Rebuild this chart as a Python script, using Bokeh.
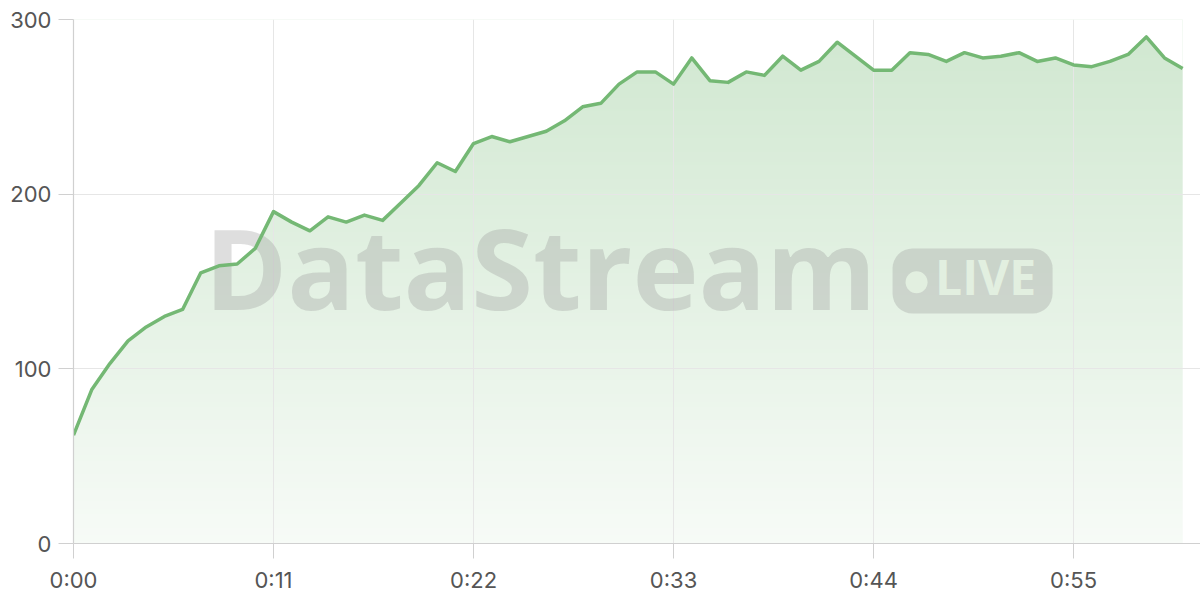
import numpy as np
from bokeh.plotting import figure
from bokeh.models import Range1d, FixedTicker, Label, BoxAnnotation
from bokeh.embed import file_html
from bokeh.resources import INLINE

# ---- data ----
seconds = list(range(62))
values = [62, 88, 103, 116, 124, 130, 134, 155, 159, 160,
          169, 190, 184, 179, 187, 184, 188, 185, 195, 205,
          218, 213, 229, 233, 230, 233, 236, 242, 250, 252,
          263, 270, 270, 263, 278, 265, 264, 270, 268, 279,
          271, 276, 287, 279, 271, 271, 281, 280, 276, 281,
          278, 279, 281, 276, 278, 274, 273, 276, 280, 290,
          278, 272]
x_ticks = [0, 11, 22, 33, 44, 55]
x_tick_labels = ["0:00", "0:11", "0:22", "0:33", "0:44", "0:55"]
y_ticks = [0, 100, 200, 300]

Y_MAX = 300
X_MAX = 61.98

LINE_COLOR = "#74b874"
GRID_COLOR = "#e6e6e6"
AXIS_COLOR = "#d0d0d0"
LABEL_COLOR = "#555555"
WM_COLOR = "#9a9a9a"
KNOCK = "#e2efe0"

p = figure(width=1200, height=600, output_backend="svg", toolbar_location=None,
           x_range=Range1d(0, X_MAX), y_range=Range1d(0, Y_MAX),
           min_border_left=73, min_border_right=0, min_border_top=19,
           min_border_bottom=57)
p.outline_line_color = None
p.background_fill_color = "white"
p.border_fill_color = "white"

# ---- vertical gradient fill (image) masked above the line ----
n = 524
img = np.empty((n, 4), dtype=np.uint32)
view = img.view(dtype=np.uint8).reshape((n, 4, 4))
t = np.linspace(0.0, 1.0, n)[:, None]  # 0 bottom -> 1 top
alpha = 0.06 + (0.34 - 0.06) * t
base = (116, 185, 116)
for k in range(3):
    view[:, :, k] = np.round(255 - alpha * (255 - base[k])).astype(np.uint8)
view[:, :, 3] = 255
p.image_rgba(image=[img], x=seconds[0], y=0, dw=seconds[-1] - seconds[0], dh=Y_MAX,
             level="image")
p.varea(x=seconds, y1=values, y2=[Y_MAX] * len(values), fill_color="white",
        fill_alpha=1.0, level="image")

# ---- grid ----
p.xgrid.ticker = FixedTicker(ticks=x_ticks)
p.ygrid.ticker = FixedTicker(ticks=y_ticks)
p.grid.grid_line_color = GRID_COLOR
p.grid.grid_line_width = 1

# ---- axes ----
p.xaxis.ticker = FixedTicker(ticks=x_ticks)
p.xaxis.major_label_overrides = dict(zip(x_ticks, x_tick_labels))
p.yaxis.ticker = FixedTicker(ticks=y_ticks)
for ax in (p.xaxis, p.yaxis):
    ax.axis_line_color = AXIS_COLOR
    ax.axis_line_width = 1.2
    ax.major_tick_line_color = AXIS_COLOR
    ax.major_tick_out = 15
    ax.major_tick_in = 0
    ax.minor_tick_line_color = None
    ax.major_label_text_font = "Inter"
    ax.major_label_text_color = LABEL_COLOR
    ax.major_label_text_font_size = "22px"
p.xaxis.major_label_standoff = 8
p.yaxis.major_label_standoff = 7

# ---- watermark ----
wm = Label(x=7.2, y=158.6, text="DataStream", text_font="Open Sans",
           text_font_style="bold", text_font_size="112px", text_color=WM_COLOR,
           text_alpha=0.33, text_align="left", text_baseline="alphabetic",
           level="underlay")
p.add_layout(wm)
badge = BoxAnnotation(left=45.045, right=53.845, bottom=131.68, top=168.9,
                      fill_color=WM_COLOR, fill_alpha=0.33, line_color=None,
                      border_radius=20, level="underlay")
p.add_layout(badge)
dot = BoxAnnotation(left=45.76, right=46.97, bottom=143.3, top=155.9,
                    fill_color=KNOCK, fill_alpha=1.0, line_color=None,
                    border_radius=11, level="underlay")
p.add_layout(dot)
live = Label(x=47.38, y=152.6, text="LIVE", text_font="Open Sans",
             text_font_style="bold", text_font_size="48px", text_color=KNOCK,
             text_align="left", text_baseline="alphabetic", level="underlay")
p.add_layout(live)

# ---- line ----
p.line(seconds, values, line_color=LINE_COLOR, line_width=3.5, line_join="round")

open("out.html", "w").write(file_html(p, INLINE))
